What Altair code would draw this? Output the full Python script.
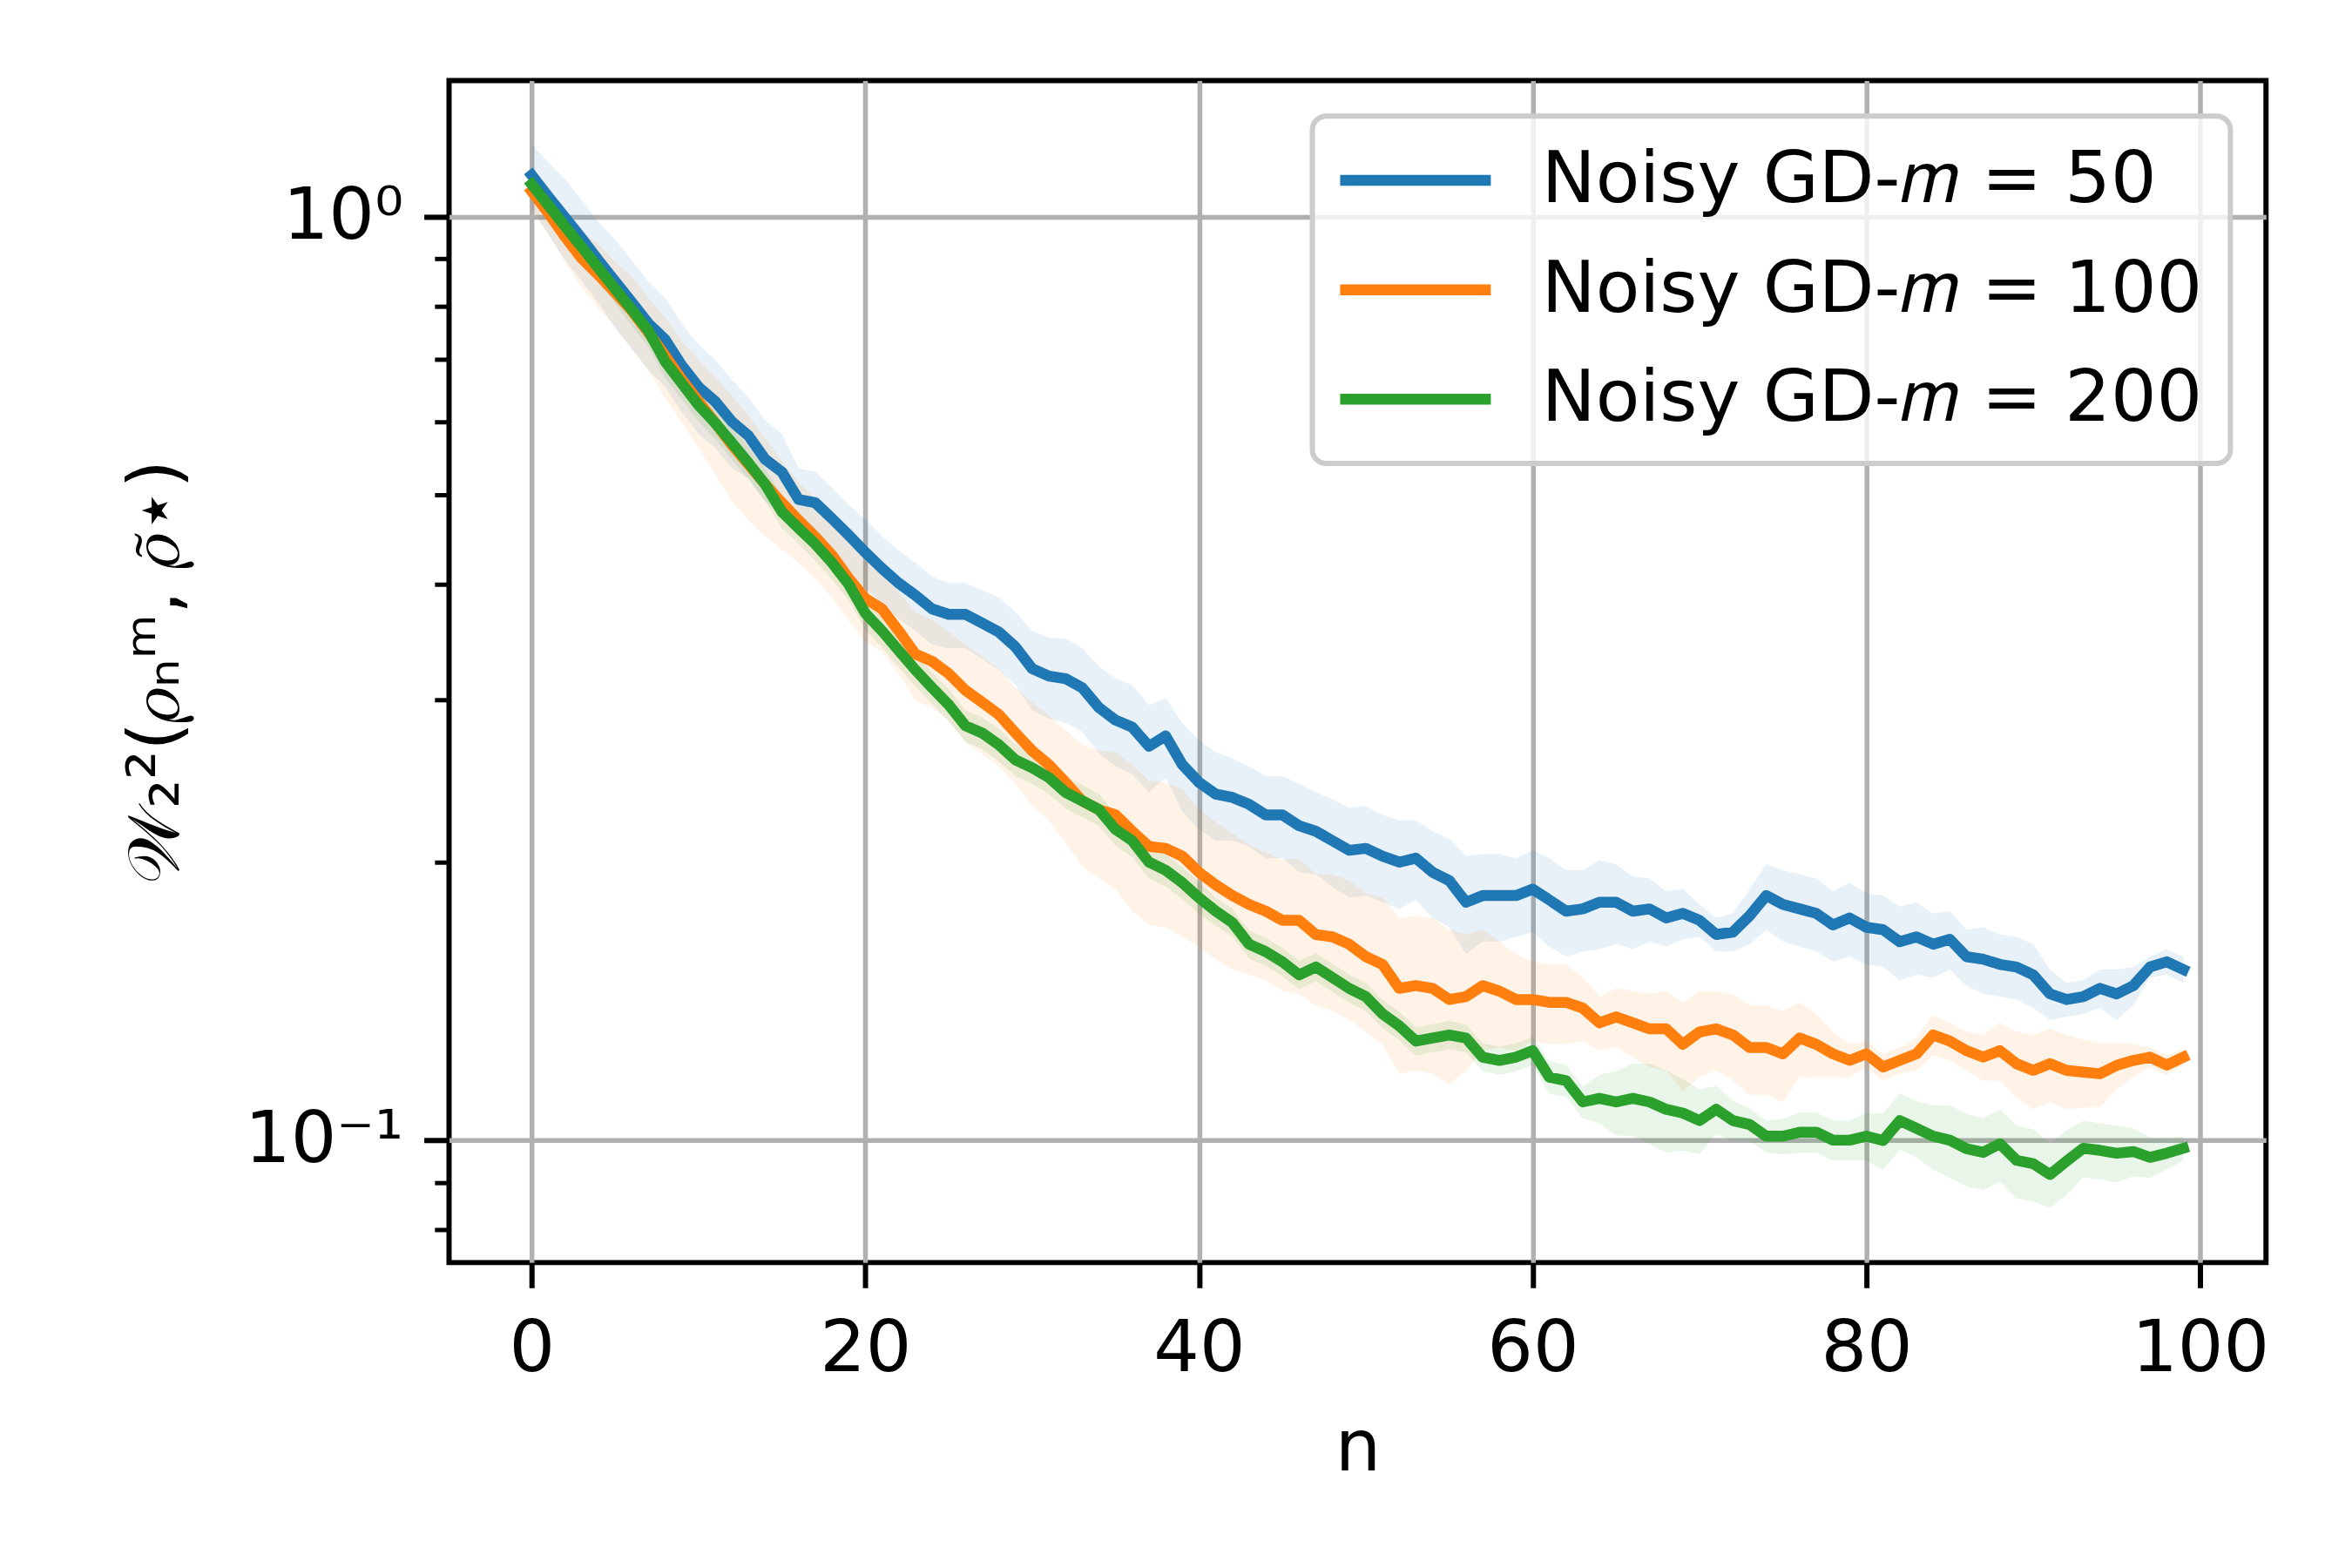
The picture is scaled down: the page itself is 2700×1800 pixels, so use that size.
import altair as alt
import pandas as pd

n_steps = list(range(100))

labels = ["Noisy GD-𝑚 = 50", "Noisy GD-𝑚 = 100", "Noisy GD-𝑚 = 200"]
colors = ["#1f77b4", "#ff7f0e", "#2ca02c"]

blue_mean = [1.109, 1.051, 0.998, 0.947, 0.897, 0.851, 0.808, 0.766, 0.736, 0.690,
             0.654, 0.631, 0.600, 0.579, 0.546, 0.529, 0.494, 0.490, 0.471, 0.452,
             0.433, 0.416, 0.401, 0.389, 0.376, 0.371, 0.371, 0.363, 0.355, 0.342,
             0.324, 0.318, 0.316, 0.309, 0.294, 0.285, 0.280, 0.267, 0.274, 0.255,
             0.244, 0.237, 0.235, 0.231, 0.225, 0.225, 0.219, 0.216, 0.211, 0.206,
             0.207, 0.203, 0.200, 0.202, 0.195, 0.191, 0.181, 0.184, 0.184, 0.184,
             0.187, 0.182, 0.177, 0.178, 0.181, 0.181, 0.177, 0.178, 0.174, 0.176,
             0.173, 0.167, 0.168, 0.175, 0.184, 0.180, 0.178, 0.176, 0.171, 0.174,
             0.170, 0.169, 0.164, 0.166, 0.163, 0.165, 0.158, 0.157, 0.155, 0.154,
             0.151, 0.144, 0.142, 0.143, 0.146, 0.144, 0.147, 0.154, 0.156, 0.153]

orange_mean = [1.065, 1.009, 0.951, 0.901, 0.865, 0.827, 0.791, 0.749, 0.707, 0.666,
               0.631, 0.598, 0.566, 0.539, 0.513, 0.490, 0.469, 0.450, 0.430, 0.406,
               0.386, 0.376, 0.356, 0.336, 0.330, 0.320, 0.307, 0.298, 0.289, 0.276,
               0.264, 0.255, 0.244, 0.233, 0.228, 0.225, 0.216, 0.208, 0.207, 0.203,
               0.195, 0.189, 0.184, 0.180, 0.177, 0.173, 0.173, 0.167, 0.166, 0.163,
               0.158, 0.155, 0.146, 0.147, 0.146, 0.142, 0.143, 0.147, 0.145, 0.142,
               0.142, 0.141, 0.141, 0.139, 0.134, 0.136, 0.134, 0.132, 0.132, 0.127,
               0.131, 0.132, 0.130, 0.126, 0.126, 0.124, 0.129, 0.127, 0.124, 0.122,
               0.124, 0.120, 0.122, 0.124, 0.130, 0.128, 0.125, 0.123, 0.125, 0.121,
               0.119, 0.121, 0.119, 0.1185, 0.118, 0.1205, 0.122, 0.123, 0.1206, 0.123]

green_mean = [1.084, 1.029, 0.976, 0.927, 0.880, 0.835, 0.793, 0.752, 0.697, 0.660,
              0.625, 0.598, 0.569, 0.541, 0.513, 0.479, 0.460, 0.442, 0.422, 0.400,
              0.372, 0.356, 0.339, 0.323, 0.309, 0.296, 0.281, 0.276, 0.268, 0.258,
              0.253, 0.247, 0.238, 0.233, 0.228, 0.217, 0.211, 0.200, 0.196, 0.190,
              0.183, 0.177, 0.172, 0.163, 0.160, 0.156, 0.151, 0.154, 0.150, 0.146,
              0.143, 0.137, 0.133, 0.128, 0.129, 0.130, 0.129, 0.123, 0.122, 0.123,
              0.125, 0.117, 0.116, 0.110, 0.111, 0.110, 0.111, 0.110, 0.108, 0.107,
              0.105, 0.108, 0.105, 0.104, 0.101, 0.101, 0.102, 0.102, 0.100, 0.100,
              0.101, 0.0999, 0.105, 0.103, 0.101, 0.100, 0.0979, 0.0970, 0.0991, 0.0951,
              0.0943, 0.0918, 0.0949, 0.0980, 0.0975, 0.0968, 0.0972, 0.0958, 0.0968, 0.0980]

blue_std = [0.089, 0.095, 0.100, 0.095, 0.090, 0.094, 0.089, 0.084, 0.081, 0.076,
            0.072, 0.069, 0.066, 0.058, 0.055, 0.053, 0.040, 0.039, 0.038, 0.036,
            0.037, 0.035, 0.034, 0.033, 0.032, 0.030, 0.030, 0.031, 0.032, 0.031,
            0.032, 0.032, 0.033, 0.032, 0.032, 0.031, 0.031, 0.029, 0.027, 0.028,
            0.027, 0.026, 0.024, 0.023, 0.023, 0.023, 0.024, 0.022, 0.023, 0.023,
            0.023, 0.022, 0.022, 0.020, 0.021, 0.021, 0.022, 0.020, 0.020, 0.018,
            0.019, 0.020, 0.019, 0.018, 0.020, 0.018, 0.016, 0.014, 0.012, 0.011,
            0.007, 0.007, 0.008, 0.012, 0.015, 0.016, 0.016, 0.016, 0.015, 0.016,
            0.015, 0.015, 0.015, 0.015, 0.013, 0.012, 0.011, 0.013, 0.012, 0.012,
            0.012, 0.009, 0.006, 0.006, 0.007, 0.009, 0.007, 0.004, 0.005, 0.005]

orange_std = [0.053, 0.050, 0.057, 0.063, 0.069, 0.066, 0.071, 0.067, 0.071, 0.067,
              0.069, 0.072, 0.074, 0.070, 0.062, 0.054, 0.047, 0.045, 0.043, 0.041,
              0.039, 0.038, 0.036, 0.037, 0.036, 0.035, 0.037, 0.036, 0.035, 0.033,
              0.034, 0.033, 0.034, 0.035, 0.036, 0.038, 0.039, 0.037, 0.037, 0.037,
              0.033, 0.032, 0.031, 0.029, 0.028, 0.028, 0.029, 0.027, 0.028, 0.028,
              0.027, 0.028, 0.028, 0.028, 0.028, 0.027, 0.024, 0.022, 0.019, 0.017,
              0.014, 0.014, 0.014, 0.011, 0.009, 0.010, 0.011, 0.012, 0.013, 0.014,
              0.014, 0.013, 0.014, 0.014, 0.014, 0.014, 0.012, 0.010, 0.007, 0.005,
              0.004, 0.004, 0.004, 0.005, 0.0065, 0.006, 0.006, 0.007, 0.009, 0.010,
              0.011, 0.011, 0.011, 0.010, 0.0095, 0.007, 0.005, 0.003, 0.003, 0.0025]

green_std = [0.033, 0.031, 0.029, 0.028, 0.031, 0.029, 0.032, 0.030, 0.028, 0.026,
             0.025, 0.024, 0.023, 0.022, 0.021, 0.019, 0.018, 0.018, 0.017, 0.016,
             0.015, 0.014, 0.014, 0.013, 0.012, 0.012, 0.011, 0.011, 0.011, 0.010,
             0.010, 0.010, 0.0095, 0.0093, 0.009, 0.0087, 0.0084, 0.008, 0.0078, 0.0076,
             0.0073, 0.0062, 0.0060, 0.0057, 0.0056, 0.0055, 0.0053, 0.0054, 0.0053, 0.0051,
             0.0050, 0.0048, 0.0047, 0.0045, 0.0045, 0.0046, 0.0045, 0.0043, 0.0043, 0.0043,
             0.0044, 0.0047, 0.0046, 0.0044, 0.0067, 0.0088, 0.010, 0.011, 0.011, 0.0096,
             0.0084, 0.0065, 0.0053, 0.0042, 0.0040, 0.0045, 0.0051, 0.0051, 0.0050, 0.0050,
             0.0060, 0.0070, 0.0074, 0.0072, 0.0081, 0.0090, 0.0088, 0.0087, 0.0089, 0.0086,
             0.0085, 0.0073, 0.0076, 0.0069, 0.0068, 0.0068, 0.0058, 0.0048, 0.0039, 0.0029]

x_ticks = [0, 20, 40, 60, 80, 100]
y_ticks = [0.08, 0.09, 0.1, 0.2, 0.3, 0.4, 0.5, 0.6, 0.7, 0.8, 0.9, 1.0]

rows = []
for lab, mean, std in zip(labels, [blue_mean, orange_mean, green_mean],
                          [blue_std, orange_std, green_std]):
    for n, m, s in zip(n_steps, mean, std):
        rows.append({"n": n, "value": m, "lower": m - s, "upper": m + s,
                     "series": lab, "band": lab})
df = pd.DataFrame(rows)

FONT = "DejaVu Sans"
FS = 83
major = "datum.value == 1 || datum.value == 0.1"
minor = "datum.value != 1 && datum.value != 0.1"

x_axis = alt.Axis(values=x_ticks, title="n", grid=True, tickSize=29, tickWidth=6,
                  labelPadding=29, titlePadding=32, format="d")
y_axis = alt.Axis(
    values=y_ticks,
    title="𝒲₂²(𝜌ₙᵐ, 𝜌̃⋆)",
    labelExpr="datum.value == 1 ? '10⁰' : (datum.value == 0.1 ? '10⁻¹' : '')",
    labelLimit=1000,
    grid=True,
    gridOpacity={"condition": {"test": major, "value": 1}, "value": 0},
    tickSize={"condition": {"test": minor, "value": 16.7}, "value": 29},
    tickWidth={"condition": {"test": minor, "value": 5}, "value": 6},
    labelPadding=24,
    titlePadding=95,
)

x_enc = alt.X("n:Q", scale=alt.Scale(domain=[-4.95, 103.95], nice=False, zero=False), axis=x_axis)
y_scale = alt.Scale(type="log", domain=[0.0737, 1.404], nice=False)

band = alt.Chart(df).mark_area(opacity=0.1, clip=True).encode(
    x=x_enc,
    y=alt.Y("lower:Q", scale=y_scale, axis=y_axis),
    y2="upper:Q",
    fill=alt.Fill("band:N", scale=alt.Scale(domain=labels, range=colors), legend=None),
    detail="band:N",
)

lines = alt.Chart(df).mark_line(strokeWidth=12.5, strokeJoin="round", strokeCap="square", clip=True).encode(
    x=x_enc,
    y=alt.Y("value:Q", scale=y_scale, axis=y_axis),
    stroke=alt.Stroke(
        "series:N",
        scale=alt.Scale(domain=labels, range=colors),
        sort=labels,
        legend=alt.Legend(
            title=None, orient="top-right", offset=41,
            symbolType="stroke", symbolSize=30625, symbolStrokeWidth=12.5,
            symbolOffset=-8,
            labelFontSize=FS, labelFont=FONT, labelColor="black", labelLimit=3000,
            labelOffset=52, rowPadding=42, padding=32, clipHeight=84,
            fillColor="rgba(255,255,255,0.8)", strokeColor="#cccccc", cornerRadius=16,
        ),
    ),
    detail="series:N",
)

chart = alt.layer(band, lines).resolve_scale(fill="independent", stroke="independent").properties(
    width=2092, height=1361,
    padding={"left": 509, "top": 82, "right": 91, "bottom": 349},
    autosize=alt.AutoSizeParams(type="none"),
    background="white",
).configure_view(
    stroke="black", strokeWidth=6,
).configure_axis(
    labelFont=FONT, titleFont=FONT, labelFontSize=FS, titleFontSize=FS,
    labelColor="black", titleColor="black", tickColor="black",
    gridColor="#b0b0b0", gridWidth=5.5, domain=False, titleFontWeight="normal",
).configure_legend(
    strokeWidth=6,
)

chart.save("out.html", embed_options={"renderer": "svg", "actions": False})
